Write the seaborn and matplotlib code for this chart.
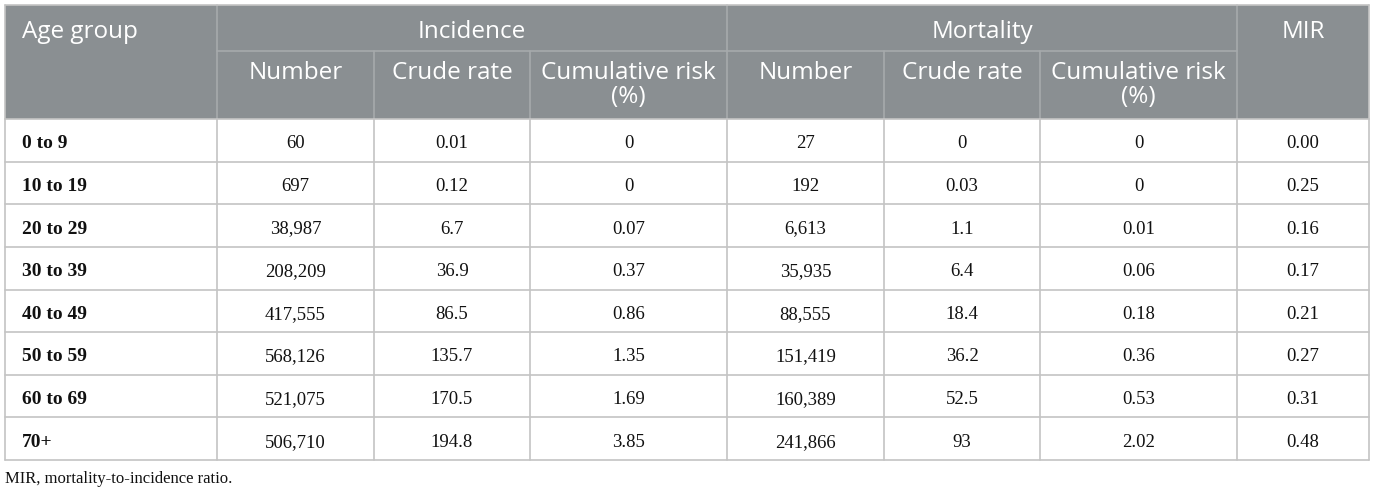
import numpy as np
import pandas as pd
import seaborn as sns
import matplotlib.pyplot as plt
from matplotlib.patches import Rectangle

sns.set_style("white")

# table contents
age_groups = ["0 to 9", "10 to 19", "20 to 29", "30 to 39",
              "40 to 49", "50 to 59", "60 to 69", "70+"]
inc_number = [60, 697, 38987, 208209, 417555, 568126, 521075, 506710]
inc_crude = [0.01, 0.12, 6.7, 36.9, 86.5, 135.7, 170.5, 194.8]
inc_cum = [0, 0, 0.07, 0.37, 0.86, 1.35, 1.69, 3.85]
mort_number = [27, 192, 6613, 35935, 88555, 151419, 160389, 241866]
mort_crude = [0, 0.03, 1.1, 6.4, 18.4, 36.2, 52.5, 93]
mort_cum = [0, 0, 0.01, 0.06, 0.18, 0.36, 0.53, 2.02]
mir = [0.00, 0.25, 0.16, 0.17, 0.21, 0.27, 0.31, 0.48]

group_labels = ["Incidence", "Mortality"]
sub_labels = ["Number", "Crude rate", "Cumulative risk\n(%)"]
footnote = "MIR, mortality-to-incidence ratio."

df = pd.DataFrame({
    "age": age_groups,
    "inc_number": [f"{v:,}" for v in inc_number],
    "inc_crude": [f"{v:g}" for v in inc_crude],
    "inc_cum": [f"{v:g}" for v in inc_cum],
    "mort_number": [f"{v:,}" for v in mort_number],
    "mort_crude": [f"{v:g}" for v in mort_crude],
    "mort_cum": [f"{v:g}" for v in mort_cum],
    "mir": [f"{v:.2f}" for v in mir],
})

# layout in pixels
W, H = 1375, 494
col_x = [5, 217, 374, 530, 727, 884, 1040, 1237, 1369]
top, mid, head_bot, bot = 5, 51, 119, 460
row_y = np.linspace(head_bot, bot, len(df) + 1)

HEAD_BG = "#8a8f92"
HEAD_LINE = "#a6aaac"
BODY_LINE = "#c4c4c4"
SANS = "Open Sans"
SERIF = "Liberation Serif"

fig = plt.figure(figsize=(W / 100, H / 100), dpi=100)
ax = fig.add_axes([0, 0, 1, 1])
ax.set_xlim(0, W)
ax.set_ylim(H, 0)
ax.axis("off")

# header block
ax.add_patch(Rectangle((col_x[0], top), col_x[-1] - col_x[0], head_bot - top,
                       facecolor=HEAD_BG, edgecolor="none"))
for x in [col_x[1], col_x[4], col_x[7]]:
    ax.plot([x, x], [top, head_bot], color=HEAD_LINE, lw=1.2)
ax.plot([col_x[1], col_x[7]], [mid, mid], color=HEAD_LINE, lw=1.2)
for x in [col_x[2], col_x[3], col_x[5], col_x[6]]:
    ax.plot([x, x], [mid, head_bot], color=HEAD_LINE, lw=1.2)

hkw = dict(color="white", fontsize=17.5, family=SANS, va="top")
ax.text(22, 20, "Age group", ha="left", **hkw)
for i, g in enumerate(group_labels):
    cx = (col_x[1 + 3 * i] + col_x[4 + 3 * i]) / 2
    ax.text(cx, 20, g, ha="center", **hkw)
    for j, s in enumerate(sub_labels):
        c = 1 + 3 * i + j
        ax.text((col_x[c] + col_x[c + 1]) / 2, 61, s, ha="center",
                linespacing=1.0, multialignment="center", **hkw)
ax.text((col_x[7] + col_x[8]) / 2, 20, "MIR", ha="center", **hkw)

# body grid
for y in row_y:
    ax.plot([col_x[0], col_x[-1]], [y, y], color=BODY_LINE, lw=1.2)
for x in col_x:
    ax.plot([x, x], [head_bot, bot], color=BODY_LINE, lw=1.2)
ax.plot([col_x[0], col_x[0]], [top, head_bot], color=BODY_LINE, lw=1.2)
ax.plot([col_x[-1], col_x[-1]], [top, head_bot], color=BODY_LINE, lw=1.2)
ax.plot([col_x[0], col_x[-1]], [top, top], color=BODY_LINE, lw=1.2)

cols = list(df.columns)
for r, row in df.iterrows():
    cy = (row_y[r] + row_y[r + 1]) / 2 + 3.5
    ax.text(22, cy, row["age"], ha="left", va="center", fontsize=14,
            family=SERIF, fontweight="bold", color="#111111")
    for c in range(1, len(cols)):
        ax.text((col_x[c] + col_x[c + 1]) / 2, cy, row[cols[c]],
                ha="center", va="center", fontsize=13.5, family=SERIF,
                color="#111111")

ax.text(5, 479, footnote, ha="left", va="center", fontsize=12,
        family=SERIF, color="#111111")

fig.savefig("out.png", dpi=100)
